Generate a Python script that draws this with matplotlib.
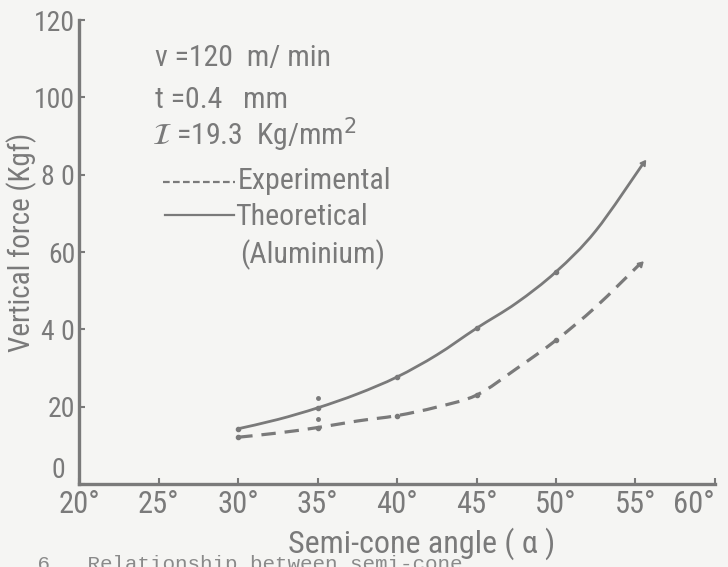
import numpy as np
import matplotlib
matplotlib.use("Agg")
from matplotlib import pyplot as plt
from matplotlib.path import Path
from matplotlib.patches import PathPatch

# values
angle_theo = [30, 32.5, 35, 37.5, 40, 42.5, 45, 47.5, 50, 52.5, 55.5]
force_theo = [14.3, 16.7, 19.7, 23.3, 27.7, 33.4, 40.3, 46.8, 54.9, 65.5, 83.0]
angle_exp = [30, 32.5, 35, 37.5, 40, 42.5, 45, 47.5, 50, 52.5, 55.3]
force_exp = [12.1, 13.2, 14.6, 16.3, 17.7, 19.9, 23.0, 29.8, 37.2, 45.8, 57.0]
stray_angle = [35, 35]
stray_force = [22.3, 16.7]

x_ticks = [20, 25, 30, 35, 40, 45, 50, 55, 60]
y_ticks = [0, 20, 40, 60, 80, 100, 120]
y_labels = ["", "20", "4 0", "60", "8 0", "100", "120"]

ink = "#7a7a7a"
paper = "#f5f5f3"
hand = ["Roboto Condensed", "Lato", "DejaVu Sans"]

plt.rcParams["font.family"] = hand


def smooth_path(xs, ys):
    # Catmull-Rom through the read points, drawn as cubic Bezier segments
    pts = np.column_stack([xs, ys]).astype(float)
    verts = [pts[0]]
    codes = [Path.MOVETO]
    n = len(pts)
    for i in range(n - 1):
        p0 = pts[max(i - 1, 0)]
        p1 = pts[i]
        p2 = pts[i + 1]
        p3 = pts[min(i + 2, n - 1)]
        c1 = p1 + (p2 - p0) / 6.0
        c2 = p2 - (p3 - p1) / 6.0
        verts += [c1, c2, p2]
        codes += [Path.CURVE4] * 3
    return Path(verts, codes)


fig = plt.figure(figsize=(7.28, 5.67), dpi=100, facecolor=paper)
ax = fig.add_axes([0.109, 0.1464, 0.873, 0.818])
ax.set_facecolor(paper)

ax.add_patch(PathPatch(smooth_path(angle_theo, force_theo), fill=False,
                       edgecolor=ink, lw=2.0, capstyle="round"))
ax.add_patch(PathPatch(smooth_path(angle_exp, force_exp), fill=False,
                       edgecolor=ink, lw=2.3, linestyle=(0, (4.5, 2.8))))

# small dots at the measured stations, arrow tips at the ends
idx = [0, 2, 4, 6, 8]
ax.plot([angle_theo[i] for i in idx], [force_theo[i] for i in idx], ls="none",
        marker="o", ms=3, color=ink)
ax.plot([angle_exp[i] for i in idx], [force_exp[i] for i in idx], ls="none",
        marker="o", ms=3, color=ink)
ax.plot(angle_theo[-1], force_theo[-1], marker=(3, 0, -35), ms=5, color=ink)
ax.plot(angle_exp[-1], force_exp[-1], marker=(3, 0, -45), ms=5, color=ink)
ax.plot(stray_angle, stray_force, ls="none", marker="o", ms=2.5, color=ink)

ax.set_xlim(20, 60)
ax.set_ylim(0, 120)
for s in ["top", "right"]:
    ax.spines[s].set_visible(False)
for s in ["left", "bottom"]:
    ax.spines[s].set_color(ink)
    ax.spines[s].set_linewidth(2.4)

ax.set_xticks(x_ticks)
ax.set_xticklabels([f"{v}\u00b0" for v in x_ticks])
ax.set_yticks(y_ticks)
ax.set_yticklabels(y_labels)
ax.tick_params(axis="x", direction="in", length=4, width=1.5, colors=ink,
               labelsize=22, pad=4)
ax.tick_params(axis="y", direction="in", length=4, width=1.5, colors=ink,
               labelsize=20, pad=3)
ax.get_xticklabels()[-1].set_horizontalalignment("right")
ax.text(-0.022, 0.03, "0", transform=ax.transAxes, ha="right", va="center",
        fontsize=20, color=ink)

ax.set_xlabel("Semi-cone angle ( \u03b1 )", fontsize=23, color=ink)
ax.xaxis.set_label_coords(0.538, -0.093)
ax.set_ylabel("Vertical force (Kgf)", fontsize=21, color=ink)
ax.yaxis.set_label_coords(-0.066, 0.52)

# parameter block and key
fs = 21.5
ax.text(0.1195, 0.918, "v =120  m/ min", transform=ax.transAxes, fontsize=fs,
        color=ink, va="center")
ax.text(0.1195, 0.828, "t =0.4   mm", transform=ax.transAxes, fontsize=fs,
        color=ink, va="center")
ax.text(0.115, 0.752, "$\\mathcal{I}$ =19.3  Kg/mm$^{2}$", transform=ax.transAxes,
        fontsize=fs, color=ink, va="center")
ax.plot([0.132, 0.245], [0.651, 0.651], transform=ax.transAxes, color=ink, lw=1.6,
        linestyle=(0, (3, 1.5)))
ax.text(0.25, 0.653, "Experimental", transform=ax.transAxes, fontsize=fs,
        color=ink, va="center")
ax.plot([0.135, 0.243], [0.580, 0.580], transform=ax.transAxes, color=ink, lw=1.6)
ax.text(0.245, 0.575, "Theoretical", transform=ax.transAxes, fontsize=fs,
        color=ink, va="center")
ax.text(0.253, 0.494, "(Aluminium)", transform=ax.transAxes, fontsize=fs,
        color=ink, va="center")

fig.text(0.0, -0.006, ".  6   Relationship between semi-cone", family="Liberation Mono",
         fontsize=15, color="#8a8a8a", va="baseline")

fig.savefig("out.png", dpi=100, facecolor=paper)
